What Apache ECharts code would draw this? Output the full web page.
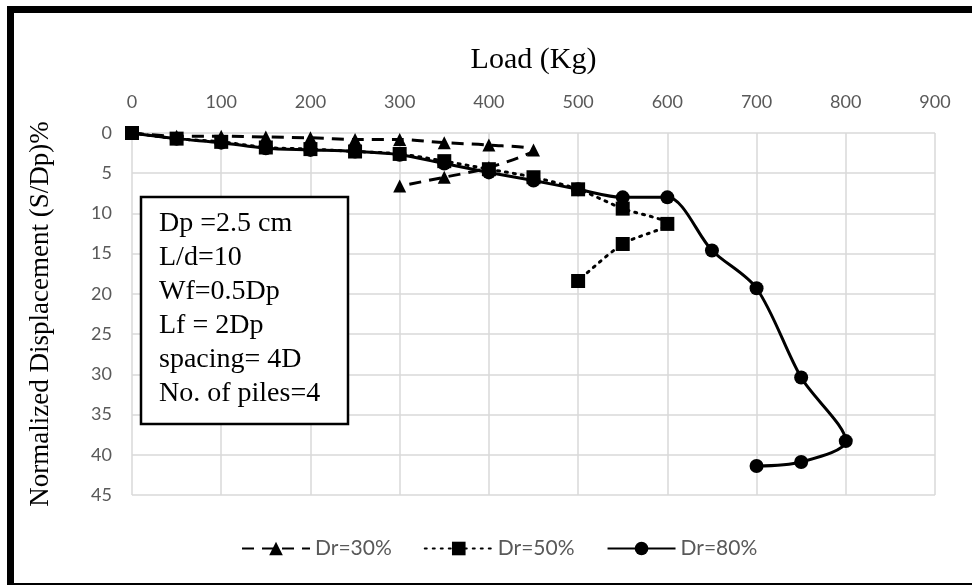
<!DOCTYPE html>
<html>
<head>
<meta charset="utf-8">
<script src="https://cdn.jsdelivr.net/npm/echarts@6/dist/echarts.min.js"></script>
<style>
  html, body { margin: 0; padding: 0; background: #fff; }
  #chart { width: 972px; height: 585px; }
</style>
</head>
<body>
<div id="chart"></div>
<script>
// load (Kg) / normalized displacement (%)
const dr30Load = [0, 50, 100, 150, 200, 250, 300, 350, 400, 450, 400, 350, 300];
const dr30Disp = [0, 0.4, 0.4, 0.5, 0.6, 0.8, 0.8, 1.2, 1.5, 2.1, 4.3, 5.5, 6.6];
const dr50Load = [0, 50, 100, 150, 200, 250, 300, 350, 400, 450, 500, 550, 600, 550, 500];
const dr50Disp = [0, 0.7, 1.1, 1.8, 2.0, 2.3, 2.6, 3.5, 4.5, 5.5, 7.0, 9.4, 11.3, 13.8, 18.4];
const dr80Load = [0, 50, 100, 150, 200, 250, 300, 350, 400, 450, 500, 550, 600, 650, 700, 750, 800, 750, 700];
const dr80Disp = [0, 0.7, 1.2, 1.9, 2.1, 2.3, 2.7, 3.8, 4.9, 5.9, 7.0, 8.0, 8.0, 14.6, 19.3, 30.4, 38.3, 40.9, 41.4];
const seriesNames = ['Dr=30%', 'Dr=50%', 'Dr=80%'];
const noteLines = ['Dp =2.5 cm', 'L/d=10', 'Wf=0.5Dp', 'Lf = 2Dp', 'spacing= 4D', 'No. of piles=4'];

function pairs(xs, ys) {
  return xs.map((x, i) => [x, ys[i]]);
}

const myChart = echarts.init(document.getElementById('chart'));

const tickFont = { color: '#595959', fontSize: 18, fontFamily: 'Lato' };

const option = {
  animation: false,
  grid: { left: 132, right: 37, top: 133, bottom: 90 },
  xAxis: {
    type: 'value',
    position: 'top',
    min: 0,
    max: 900,
    interval: 100,
    name: 'Load (Kg)',
    nameLocation: 'middle',
    nameGap: 58,
    nameTextStyle: { color: '#000', fontSize: 30, fontFamily: 'Liberation Serif' },
    axisLine: { show: false },
    axisTick: { show: false },
    axisLabel: Object.assign({ margin: 22 }, tickFont),
    splitLine: { lineStyle: { color: '#d9d9d9', width: 1.5 } }
  },
  yAxis: {
    type: 'value',
    inverse: true,
    min: 0,
    max: 45,
    interval: 5,
    name: 'Normalized Displacement (S/Dp)%',
    nameLocation: 'middle',
    nameGap: 78,
    nameTextStyle: { color: '#000', fontSize: 27, fontFamily: 'Liberation Serif' },
    axisLine: { show: false },
    axisTick: { show: false },
    axisLabel: Object.assign({ margin: 20 }, tickFont),
    splitLine: { lineStyle: { color: '#d9d9d9', width: 1.5 } }
  },
  legend: {
    left: 236,
    bottom: 21,
    itemWidth: 68,
    itemHeight: 17,
    itemGap: 32,
    textStyle: { color: '#595959', fontSize: 21, fontFamily: 'Lato' },
    data: seriesNames
  },
  graphic: [
    // outer frame
    { type: 'rect', shape: { x: 7, y: 6, width: 965, height: 7 }, style: { fill: '#000' } },
    { type: 'rect', shape: { x: 7, y: 6, width: 7, height: 579 }, style: { fill: '#000' } },
    { type: 'rect', shape: { x: 7, y: 583, width: 965, height: 2 }, style: { fill: '#000' } },
    // note box
    {
      type: 'rect',
      z: 100,
      shape: { x: 141, y: 197, width: 207, height: 227 },
      style: { fill: '#fff', stroke: '#000', lineWidth: 2.5 }
    },
    {
      type: 'text',
      z: 101,
      x: 159,
      y: 207,
      style: {
        text: noteLines.join('\n'),
        font: '28px "Liberation Serif"',
        lineHeight: 34,
        fill: '#000',
        verticalAlign: 'top'
      }
    }
  ],
  series: [
    {
      name: seriesNames[0],
      type: 'line',
      smooth: 0.3,
      data: pairs(dr30Load, dr30Disp),
      symbol: 'triangle',
      symbolSize: 13,
      itemStyle: { color: '#000' },
      lineStyle: { color: '#000', width: 3, type: [12, 8] }
    },
    {
      name: seriesNames[1],
      type: 'line',
      smooth: 0.3,
      data: pairs(dr50Load, dr50Disp),
      symbol: 'rect',
      symbolSize: 14,
      itemStyle: { color: '#000' },
      lineStyle: { color: '#000', width: 3, type: [2, 6], cap: 'round' }
    },
    {
      name: seriesNames[2],
      type: 'line',
      smooth: 0.3,
      data: pairs(dr80Load, dr80Disp),
      symbol: 'circle',
      symbolSize: 14,
      itemStyle: { color: '#000' },
      lineStyle: { color: '#000', width: 3 }
    }
  ]
};

myChart.setOption(option);
</script>
</body>
</html>
